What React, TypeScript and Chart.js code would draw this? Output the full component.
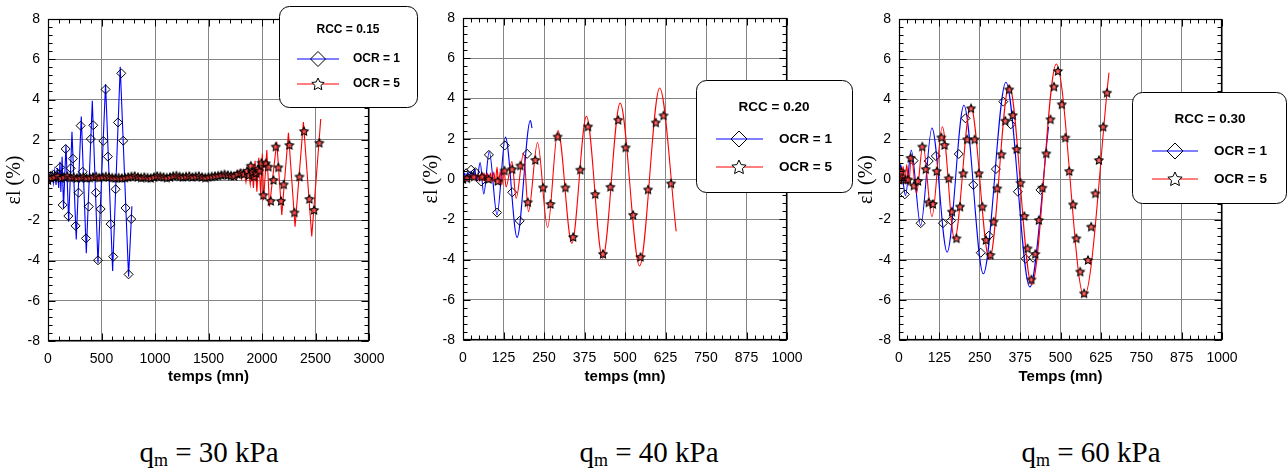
import React, { useEffect, useRef } from 'react';
import { Chart, registerables } from 'chart.js';

Chart.register(...registerables);

// ---------------- DATA ----------------
const yTickLabels = ['-8', '-6', '-4', '-2', '0', '2', '4', '6', '8'];
const xTickLabels1 = ['0', '500', '1000', '1500', '2000', '2500', '3000'];
const xTickLabels23 = ['0', '125', '250', '375', '500', '625', '750', '875', '1000'];

const legendTitles = ['RCC = 0.15', 'RCC = 0.20', 'RCC = 0.30'];
const seriesNames = ['OCR = 1', 'OCR = 5'];
const xTitles = ['temps (mn)', 'temps (mn)', 'Temps (mn)'];
const yTitle = 'εl (%)';
const loadSymbol = 'q';
const loadSub = 'm';
const loadValues = ['= 30 kPa', '= 40 kPa', '= 60 kPa'];

// Panel 1 : RCC = 0.15
const p1BlueLineT = [0, 12, 25, 38, 50, 62, 75, 88, 100, 112, 120, 132, 145, 168, 193, 224, 264, 311, 358, 414, 467, 538, 604, 675, 753, 784];
const p1BlueLineV = [0, 0.25, -0.1, 0.35, -0.15, 0.45, -0.25, 0.6, -0.4, 0.9, -0.6, 1.16, -1.4, 1.75, -2.07, 2.4, -2.95, 3.15, -3.64, 3.94, -4.14, 4.77, -4.52, 5.63, -4.8, -1.3];
const p1BlueMarkT = [0, 25, 50, 75, 95, 112, 137, 165, 190, 212, 233, 258, 286, 305, 324, 355, 381, 400, 423, 448, 467, 492, 517, 538, 560, 585, 610, 632, 654, 685, 703, 725, 753, 778];
const p1BlueMarkV = [0, 0.2, 0.25, 0.15, 0.3, 0.63, -1.24, 1.54, -1.79, 0.58, 1.06, -2.28, -0.63, 2.7, 0.41, -2.9, -1.32, 2.04, 2.72, -0.63, -3.99, -1.44, 1.94, 4.5, 1.16, -2.19, -3.81, -0.46, 2.86, 5.3, 1.95, -1.39, -4.69, -1.94];
const p1RedLineT = [0, 20, 40, 60, 80, 100, 130, 160, 190, 220, 250, 280, 320, 360, 400, 440, 480, 520, 560, 600, 640, 680, 720, 760, 800, 850, 900, 950, 1000, 1050, 1100, 1150, 1200, 1250, 1300, 1350, 1400, 1450, 1500, 1550, 1600, 1650, 1700, 1740, 1770, 1790, 1810, 1830, 1850, 1870, 1890, 1905, 1920, 1935, 1952, 1970, 1988, 2003, 2015, 2045, 2070, 2138, 2185, 2247, 2309, 2387, 2465, 2549];
const p1RedLineV = [0, 0.25, 0.05, 0.3, 0.05, 0.3, 0.0, 0.25, 0.05, 0.25, 0.05, 0.2, 0.05, 0.2, 0.05, 0.2, 0.05, 0.25, 0.05, 0.2, 0.05, 0.2, 0.05, 0.2, 0.1, 0.25, 0.1, 0.2, 0.1, 0.25, 0.1, 0.2, 0.1, 0.25, 0.1, 0.2, 0.1, 0.2, 0.1, 0.25, 0.15, 0.3, 0.15, 0.35, 0.1, 0.45, 0.05, 0.5, -0.1, 0.6, -0.2, 0.8, -0.4, 0.95, -0.58, 1.1, -0.75, 1.3, -1.0, 1.49, -1.32, 1.9, -1.74, 2.35, -2.32, 2.88, -2.81, 3.03];
const p1RedMarkT = [0, 30, 60, 90, 120, 150, 180, 210, 240, 270, 300, 330, 360, 390, 420, 450, 480, 510, 540, 570, 600, 630, 660, 690, 720, 750, 780, 810, 840, 870, 900, 930, 960, 990, 1020, 1050, 1080, 1110, 1140, 1170, 1200, 1230, 1260, 1290, 1320, 1350, 1380, 1410, 1440, 1470, 1500, 1530, 1560, 1590, 1620, 1650, 1680, 1710, 1740, 1770, 1800, 1830, 1860, 1880, 1895, 1910, 1926, 1945, 1960, 1976, 1995, 2013, 2035, 2060, 2082, 2107, 2129, 2153, 2178, 2203, 2256, 2303, 2350, 2393, 2443, 2487, 2536];
const p1RedMarkV = [0, 0.1, 0.15, 0.2, 0.1, 0.15, 0.2, 0.12, 0.15, 0.1, 0.12, 0.15, 0.1, 0.12, 0.15, 0.18, 0.12, 0.15, 0.18, 0.15, 0.12, 0.1, 0.12, 0.1, 0.12, 0.15, 0.18, 0.2, 0.15, 0.12, 0.15, 0.12, 0.1, 0.15, 0.2, 0.18, 0.15, 0.12, 0.15, 0.2, 0.22, 0.18, 0.15, 0.18, 0.2, 0.15, 0.18, 0.2, 0.15, 0.12, 0.15, 0.18, 0.2, 0.22, 0.25, 0.28, 0.25, 0.22, 0.2, 0.3, 0.35, 0.3, 0.45, 0.25, 0.71, 0.4, 0.17, 0.35, 0.55, 0.46, 0.86, -0.75, 0.83, 0.66, -1.04, 0.0, 1.66, 0.63, -1.04, -0.22, 1.74, -1.61, 0.17, 2.43, -0.94, -1.49, 1.85];

// Panel 2 : RCC = 0.20
const p2BlueLineT = [0, 5, 10, 15, 20, 25, 30, 36, 42, 53, 64, 81, 105, 131, 167, 208, 213];
const p2BlueLineV = [0, 0.3, 0, 0.35, 0.05, 0.4, 0.1, 0.5, -0.1, 0.82, -0.74, 1.37, -1.78, 2.08, -2.9, 2.91, 2.53];
const p2BlueMarkT = [0, 10, 25, 38, 56, 80, 105, 129, 152, 175, 198];
const p2BlueMarkV = [0, 0.29, 0.46, 0.34, -0.12, 1.2, -1.67, 1.67, -0.66, -2.08, 1.25];
const p2RedLineT = [0, 5, 10, 15, 20, 25, 30, 35, 40, 45, 50, 55, 60, 65, 70, 75, 80, 85, 90, 95, 100, 105, 110, 115, 120, 126, 133, 151, 164, 187, 202, 230, 261, 293, 336, 381, 431, 485, 545, 607, 658];
const p2RedLineV = [0, 0.15, -0.05, 0.2, 0, 0.2, -0.05, 0.25, -0.05, 0.25, -0.1, 0.25, -0.1, 0.3, -0.1, 0.3, -0.15, 0.3, -0.15, 0.35, -0.2, 0.6, -0.25, 0.4, -0.3, 0.55, -0.4, 0.87, -0.96, 1.28, -1.62, 1.81, -2.41, 2.41, -3.19, 3.11, -3.94, 3.77, -4.32, 4.52, -2.6];
const p2RedMarkT = [0, 12, 33, 59, 79, 107, 128, 152, 177, 200, 223, 247, 270, 292, 316, 340, 362, 386, 408, 432, 455, 479, 502, 525, 548, 571, 595, 619, 642];
const p2RedMarkV = [0, 0.04, 0.12, 0.12, 0, -0.1, 0.42, 0.49, 0.67, -1.15, 0.95, -0.42, -1.24, 2.11, -0.42, -2.88, 0.46, 2.61, -0.75, -3.72, -0.39, 2.94, 1.57, -1.78, -3.87, -0.52, 2.81, 3.16, -0.22];

// Panel 3 : RCC = 0.30
const p3BlueLineT = [0, 5, 11, 20, 38, 67, 102, 149, 201, 261, 331, 405, 463];
const p3BlueLineV = [0, 0.75, 0.1, -0.8, 1.45, -2.3, 2.57, -3.62, 3.7, -4.7, 4.85, -5.36, 2.63];
const p3BlueMarkT = [0, 7, 18, 45, 67, 92, 114, 136, 161, 185, 206, 230, 253, 278, 300, 323, 346, 368, 392, 415, 438];
const p3BlueMarkV = [0, 0, -0.74, 0.94, -2.18, 0.92, 1.17, -2.18, -2.05, 1.27, 3.05, -0.27, -3.65, -2.8, 0.52, 3.88, 2.75, -0.61, -3.95, -3.9, -0.52];
const p3RedLineT = [0, 4, 8, 13, 18, 24, 30, 38, 54, 74, 102, 134, 172, 222, 280, 341, 411, 487, 573, 650];
const p3RedLineV = [0, 0.6, -0.1, 0.65, -0.2, 0.75, -0.3, 1.17, -0.69, 1.72, -1.85, 2.63, -2.98, 3.66, -4.0, 4.71, -5.25, 5.76, -5.84, 5.32];
const p3RedMarkT = [0, 7, 20, 28, 36, 46, 59, 72, 83, 92, 105, 117, 131, 141, 154, 164, 178, 189, 199, 211, 223, 234, 247, 258, 269, 283, 293, 304, 317, 329, 341, 352, 364, 376, 388, 398, 410, 422, 433, 444, 456, 469, 480, 492, 504, 515, 527, 539, 549, 561, 573, 585, 595, 608, 619, 632, 644];
const p3RedMarkV = [0, 0.4, 0, 0, 1.08, -0.3, -0.07, 1.64, 0.52, -1.14, -1.22, 0.42, 2.1, 1.72, 0.06, -1.6, -2.93, -1.35, 0.31, 2.0, 3.55, 2.0, 0.31, -1.35, -3.01, -3.76, -2.1, -0.44, 1.26, 2.93, 4.49, 3.21, 1.52, -0.16, -1.82, -3.43, -4.98, -3.71, -2.02, -0.41, 1.3, 3.0, 4.63, 5.41, 3.75, 2.09, 0.42, -1.24, -2.93, -4.59, -5.67, -4.01, -2.35, -0.69, 0.97, 2.63, 4.33];

// ---------------- STYLE / LAYOUT ----------------
const FONT_SANS = '"Liberation Sans", Arial, sans-serif';
const FONT_SERIF = '"Liberation Serif", "Times New Roman", serif';
const H = 390;
const BLUE = '#0000ff';
const RED = '#ff0000';

type PanelCfg = {
  left: number; w: number;
  plot: { l: number; r: number; t: number; b: number };
  xMax: number; xStep: number; xLabels: string[]; smooth: boolean;
  yTitlePad: number;
  series: { blueLine: [number[], number[]]; blueMark: [number[], number[]]; redLine: [number[], number[]]; redMark: [number[], number[]] };
  legend: { box: [number, number, number, number]; titleX: number; titleY: number; rows: [number, number]; line: [number, number]; mark: number; textX: number; font: number; dR: number; sR: number };
  idx: number;
};

const panels: PanelCfg[] = [
  {
    idx: 0, left: 0, w: 420, plot: { l: 48, r: 369, t: 19, b: 341 }, xMax: 3000, xStep: 500, xLabels: xTickLabels1, smooth: false, yTitlePad: 3,
    series: { blueLine: [p1BlueLineT, p1BlueLineV], blueMark: [p1BlueMarkT, p1BlueMarkV], redLine: [p1RedLineT, p1RedLineV], redMark: [p1RedMarkT, p1RedMarkV] },
    legend: { box: [279, 6, 138, 101], titleX: 348, titleY: 30, rows: [59, 84], line: [297, 339], mark: 318, textX: 353, font: 12, dR: 7.5, sR: 6.5 },
  },
  {
    idx: 1, left: 420, w: 435, plot: { l: 463, r: 787, t: 18, b: 340 }, xMax: 1000, xStep: 125, xLabels: xTickLabels23, smooth: true, yTitlePad: 0,
    series: { blueLine: [p2BlueLineT, p2BlueLineV], blueMark: [p2BlueMarkT, p2BlueMarkV], redLine: [p2RedLineT, p2RedLineV], redMark: [p2RedMarkT, p2RedMarkV] },
    legend: { box: [696, 80, 156, 112], titleX: 774, titleY: 107, rows: [139, 167], line: [716, 763], mark: 739, textX: 779, font: 13.5, dR: 8, sR: 7.5 },
  },
  {
    idx: 2, left: 855, w: 432, plot: { l: 899, r: 1222, t: 19, b: 340 }, xMax: 1000, xStep: 125, xLabels: xTickLabels23, smooth: true, yTitlePad: 0,
    series: { blueLine: [p3BlueLineT, p3BlueLineV], blueMark: [p3BlueMarkT, p3BlueMarkV], redLine: [p3RedLineT, p3RedLineV], redMark: [p3RedMarkT, p3RedMarkV] },
    legend: { box: [1132, 92, 154, 111], titleX: 1210, titleY: 119, rows: [151, 179], line: [1152, 1198], mark: 1175, textX: 1214, font: 13.5, dR: 8, sR: 7.5 },
  },
];

const labelCenters = [209, 649, 1091];

// ---------------- HELPERS ----------------
function starPath(g: CanvasRenderingContext2D, x: number, y: number, R: number, r: number) {
  g.beginPath();
  for (let i = 0; i < 10; i++) {
    const a = -Math.PI / 2 + (i * Math.PI) / 5;
    const rad = i % 2 === 0 ? R : r;
    const px = x + rad * Math.cos(a);
    const py = y + rad * Math.sin(a);
    if (i === 0) g.moveTo(px, py); else g.lineTo(px, py);
  }
  g.closePath();
}

function makeStarImage(R: number, fill: string): HTMLCanvasElement {
  const size = Math.ceil(R * 2 + 3);
  const c = document.createElement('canvas');
  c.width = size; c.height = size;
  const g = c.getContext('2d')!;
  starPath(g, size / 2, size / 2 + 0.4, R, R * 0.5);
  g.fillStyle = fill; g.fill();
  g.strokeStyle = '#000'; g.lineWidth = 1.1; g.stroke();
  return c;
}

function diamondPath(g: CanvasRenderingContext2D, x: number, y: number, r: number) {
  g.beginPath();
  g.moveTo(x, y - r); g.lineTo(x + r, y); g.lineTo(x, y + r); g.lineTo(x - r, y); g.closePath();
}

const pts = (t: number[], v: number[]) => t.map((x, i) => ({ x, y: v[i] }));

function decorPlugin(cfg: PanelCfg) {
  return {
    id: 'decor' + cfg.idx,
    afterDatasetsDraw(chart: any) {
      const ctx: CanvasRenderingContext2D = chart.ctx;
      const a = chart.chartArea;
      const xs = chart.scales.x, ys = chart.scales.y;
      ctx.save();
      ctx.strokeStyle = '#000';
      ctx.lineWidth = 1;
      const L = Math.round(a.left) + 0.5, R = Math.round(a.right) - 0.5;
      const T = Math.round(a.top) + 0.5, B = Math.round(a.bottom) - 0.5;
      ctx.beginPath();
      const xt = xs.ticks.map((t: any) => t.value);
      for (let i = 0; i < xt.length; i++) {
        const vals = [xt[i]];
        if (i < xt.length - 1) for (let k = 1; k < 5; k++) vals.push(xt[i] + ((xt[i + 1] - xt[i]) * k) / 5);
        vals.forEach((v, j) => {
          const len = j === 0 ? 7 : 4;
          const px = Math.round(xs.getPixelForValue(v)) + 0.5;
          ctx.moveTo(px, B); ctx.lineTo(px, B - len);
          ctx.moveTo(px, T); ctx.lineTo(px, T + len);
        });
      }
      const yt = ys.ticks.map((t: any) => t.value);
      for (let i = 0; i < yt.length; i++) {
        const vals = [yt[i]];
        if (i < yt.length - 1) for (let k = 1; k < 5; k++) vals.push(yt[i] + ((yt[i + 1] - yt[i]) * k) / 5);
        vals.forEach((v, j) => {
          const len = j === 0 ? 7 : 4;
          const py = Math.round(ys.getPixelForValue(v)) + 0.5;
          ctx.moveTo(L, py); ctx.lineTo(L + len, py);
          ctx.moveTo(R, py); ctx.lineTo(R - len, py);
        });
      }
      ctx.stroke();
      ctx.lineWidth = 1.2;
      ctx.strokeRect(L, T, R - L, B - T);
      ctx.restore();
    },
    afterDraw(chart: any) {
      const ctx: CanvasRenderingContext2D = chart.ctx;
      const lg = cfg.legend;
      const ox = cfg.left;
      ctx.save();
      const [bx, by, bw, bh] = lg.box;
      ctx.beginPath();
      (ctx as any).roundRect(bx - ox + 0.5, by + 0.5, bw, bh, 10);
      ctx.fillStyle = '#fff'; ctx.fill();
      ctx.strokeStyle = '#000'; ctx.lineWidth = 1; ctx.stroke();
      ctx.fillStyle = '#000';
      ctx.font = `bold ${lg.font}px ${FONT_SANS}`;
      ctx.textAlign = 'center'; ctx.textBaseline = 'middle';
      ctx.fillText(legendTitles[cfg.idx], lg.titleX - ox, lg.titleY);
      for (let j = 0; j < 2; j++) {
        const y = lg.rows[j];
        ctx.strokeStyle = j === 0 ? BLUE : RED;
        ctx.lineWidth = 1.2;
        ctx.beginPath(); ctx.moveTo(lg.line[0] - ox, y); ctx.lineTo(lg.line[1] - ox, y); ctx.stroke();
        ctx.strokeStyle = '#000'; ctx.lineWidth = 1;
        if (j === 0) { diamondPath(ctx, lg.mark - ox, y, lg.dR); ctx.stroke(); }
        else { starPath(ctx, lg.mark - ox, y + 0.5, lg.sR, lg.sR * 0.48); ctx.fillStyle = '#fff'; ctx.fill(); ctx.stroke(); }
        ctx.fillStyle = '#000';
        ctx.textAlign = 'left';
        ctx.fillText(seriesNames[j], lg.textX - ox, y);
      }
      ctx.restore();
    },
  };
}

function buildConfig(cfg: PanelCfg): any {
  const starImg = makeStarImage(4.3, 'rgba(255,60,60,0.8)');
  const s = cfg.series;
  const lineOpts = (color: string) => ({
    showLine: true, borderColor: color, borderWidth: 1.1, pointRadius: 0, pointHoverRadius: 0,
    tension: 0, cubicInterpolationMode: cfg.smooth ? 'monotone' : 'default', fill: false,
  });
  return {
    type: 'scatter',
    data: {
      datasets: [
        { label: seriesNames[1] + ' markers', data: pts(s.redMark[0], s.redMark[1]), showLine: false, pointStyle: starImg, pointRadius: 4, order: 0 },
        { label: seriesNames[1], data: pts(s.redLine[0], s.redLine[1]), ...lineOpts(RED), order: 1 },
        { label: seriesNames[0] + ' markers', data: pts(s.blueMark[0], s.blueMark[1]), showLine: false, pointStyle: 'rectRot', pointRadius: 4.5, pointBorderColor: '#000', pointBackgroundColor: 'rgba(0,0,0,0)', pointBorderWidth: 1, order: 2 },
        { label: seriesNames[0], data: pts(s.blueLine[0], s.blueLine[1]), ...lineOpts(BLUE), order: 3 },
      ],
    },
    options: {
      responsive: false,
      animation: false,
      devicePixelRatio: 1,
      events: [],
      layout: { padding: { top: cfg.plot.t, right: cfg.left + cfg.w - cfg.plot.r, left: 0, bottom: 0 } },
      plugins: { legend: { display: false }, tooltip: { enabled: false } },
      scales: {
        x: {
          type: 'linear', min: 0, max: cfg.xMax,
          afterFit: (scale: any) => { scale.height = H - cfg.plot.b; },
          ticks: {
            stepSize: cfg.xStep, autoSkip: false, maxRotation: 0, padding: 10, color: '#000',
            font: { family: FONT_SANS, size: 14 },
            callback: (_v: any, i: number) => cfg.xLabels[i],
          },
          grid: { color: '#848484', lineWidth: 1, drawTicks: false },
          border: { display: false },
          title: { display: true, text: xTitles[cfg.idx], color: '#000', font: { family: FONT_SANS, size: 15, weight: 'bold' }, padding: { top: 0, bottom: 4 } },
        },
        y: {
          type: 'linear', min: -8, max: 8,
          afterFit: (scale: any) => { scale.width = cfg.plot.l - cfg.left; },
          ticks: {
            stepSize: 2, autoSkip: false, padding: 8, color: '#000',
            font: { family: FONT_SANS, size: 14 },
            callback: (_v: any, i: number) => yTickLabels[i],
          },
          grid: { color: '#848484', lineWidth: 1, drawTicks: false },
          border: { display: false },
          title: { display: true, text: yTitle, color: '#000', font: { family: FONT_SERIF, size: 20 }, padding: { top: cfg.yTitlePad, bottom: 0 } },
        },
      },
    },
    plugins: [decorPlugin(cfg)],
  };
}

function Panel({ cfg }: { cfg: PanelCfg }) {
  const ref = useRef<HTMLCanvasElement>(null);
  useEffect(() => {
    const chart = new Chart(ref.current!, buildConfig(cfg));
    return () => chart.destroy();
  }, [cfg]);
  return (
    <canvas
      ref={ref}
      width={cfg.w}
      height={H}
      style={{ position: 'absolute', left: cfg.left, top: 0, width: cfg.w, height: H }}
    />
  );
}

export default function App() {
  return (
    <div style={{ position: 'absolute', left: 0, top: 0, width: 1287, height: 472, background: '#fff', overflow: 'hidden' }}>
      {panels.map((p) => (
        <Panel key={p.idx} cfg={p} />
      ))}
      {loadValues.map((val, i) => (
        <div
          key={i}
          style={{
            position: 'absolute', left: labelCenters[i] - 150, width: 300, top: 438, textAlign: 'center',
            fontFamily: FONT_SERIF, fontSize: 29, lineHeight: 1, color: '#000', whiteSpace: 'nowrap',
          }}
        >
          {loadSymbol}
          <sub style={{ fontSize: '0.62em', verticalAlign: '-0.25em' }}>{loadSub}</sub> {val}
        </div>
      ))}
    </div>
  );
}
